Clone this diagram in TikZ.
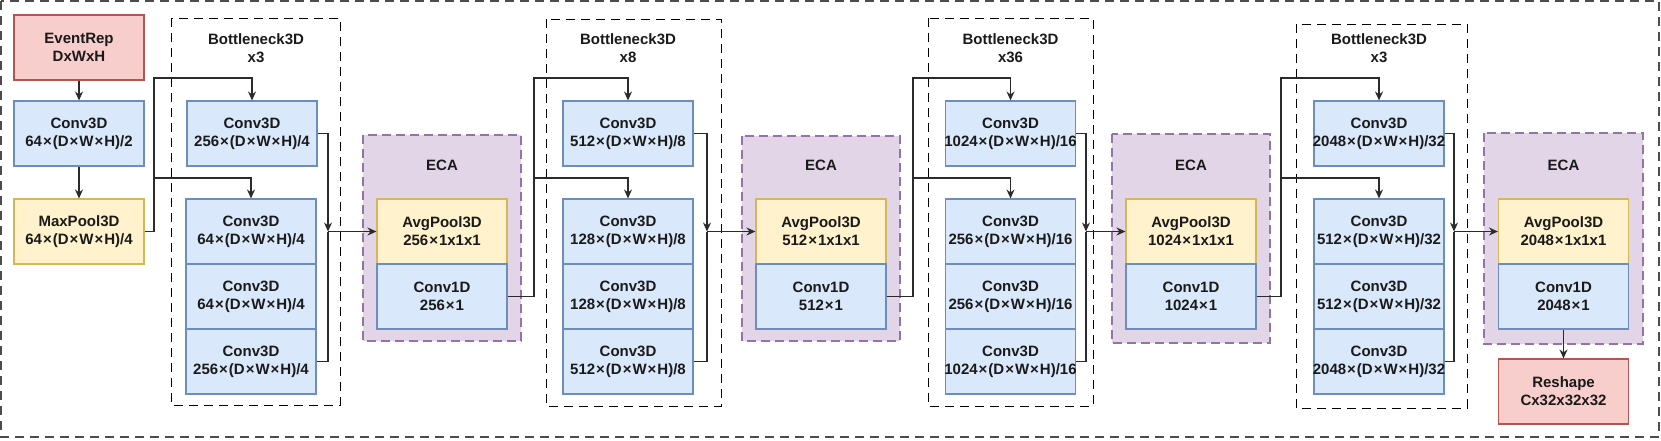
\documentclass[tikz,border=0pt]{standalone}
\usepackage{fontspec}
\setmainfont{Liberation Sans}
\usetikzlibrary{arrows.meta}
\definecolor{bluef}{HTML}{DAE8FC}\definecolor{blued}{HTML}{6C8EBF}
\definecolor{yelf}{HTML}{FFF2CC}\definecolor{yeld}{HTML}{D6B656}
\definecolor{redf}{HTML}{F8CECC}\definecolor{redd}{HTML}{B85450}
\definecolor{purf}{HTML}{E1D5E7}\definecolor{purd}{HTML}{9673A6}
\definecolor{txt}{HTML}{1A1A1A}
\definecolor{ln}{HTML}{2B2B2B}
\newcommand{\mx}{\hspace{1pt}×\hspace{1pt}}
\newcommand{\wl}[1]{\makebox[120pt][c]{#1}}
\tikzset{
  x=1pt,y=-1pt,
  every node/.style={font=\fontsize{15}{18}\selectfont\bfseries, text=txt, align=center, inner sep=0pt},
  blk/.style={draw=blued, fill=bluef, line width=1.1pt, minimum width=130pt, minimum height=65pt},
  yblk/.style={draw=yeld, fill=yelf, line width=1.1pt, minimum width=130pt, minimum height=65pt},
  rblk/.style={draw=redd, fill=redf, line width=1.1pt, minimum width=130pt, minimum height=65pt},
  ecabox/.style={draw=purd, fill=purf, line width=1.1pt, dash pattern=on 9pt off 5pt},
  bnbox/.style={draw=black, line width=1pt, dash pattern=on 9pt off 6pt},
  outerbox/.style={draw=black!70, line width=1.4pt, dash pattern=on 9pt off 6pt},
  arr/.style={draw=ln, line width=1.2pt, -{Stealth[length=9pt,width=8pt]}},
  lnk/.style={draw=ln, line width=1.2pt},
}
\begin{document}
\begin{tikzpicture}
\useasboundingbox (0,0) rectangle (1661,440);
\draw[outerbox] (1,1) rectangle (1659,437);

% input column
\node[rblk] (ev) at (79,47.5) {EventRep\\DxWxH};
\node[blk] (c0) at (79,133.5) {Conv3D\\\wl{64\mx(D\mx W\mx H)/2}};
\node[yblk] (mp) at (79,231.5) {MaxPool3D\\\wl{64\mx(D\mx W\mx H)/4}};
\draw[arr] (ev) -- (c0);
\draw[arr] (c0) -- (mp);

% Bottleneck 1
\draw[bnbox] (171,18) rectangle (340,405);
\node (bl1) at (256,48.5) {Bottleneck3D\\x3};
\node[blk] (t1) at (252,133.5) {Conv3D\\\wl{256\mx(D\mx W\mx H)/4}};
\node[blk] (a1) at (251,231.5) {Conv3D\\\wl{64\mx(D\mx W\mx H)/4}};
\node[blk] (b1) at (251,296.5) {Conv3D\\\wl{64\mx(D\mx W\mx H)/4}};
\node[blk] (d1) at (251,361.5) {Conv3D\\\wl{256\mx(D\mx W\mx H)/4}};
% ECA 1
\draw[ecabox] (363,135) rectangle (521,341);
\node (el1) at (442,165) {ECA};
\node[yblk] (p1) at (442,231.5) {AvgPool3D\\256\mx 1x1x1};
\node[blk] (q1) at (442,296.5) {Conv1D\\256\mx 1};

% Bottleneck 2
\draw[bnbox] (546,19) rectangle (721,406);
\node (bl2) at (628,48.5) {Bottleneck3D\\x8};
\node[blk] (t2) at (628,133.5) {Conv3D\\\wl{512\mx(D\mx W\mx H)/8}};
\node[blk] (a2) at (628,231.5) {Conv3D\\\wl{128\mx(D\mx W\mx H)/8}};
\node[blk] (b2) at (628,296.5) {Conv3D\\\wl{128\mx(D\mx W\mx H)/8}};
\node[blk] (d2) at (628,361.5) {Conv3D\\\wl{512\mx(D\mx W\mx H)/8}};
% ECA 2
\draw[ecabox] (742,136) rectangle (900,341);
\node (el2) at (821,165) {ECA};
\node[yblk] (p2) at (821,231.5) {AvgPool3D\\512\mx 1x1x1};
\node[blk] (q2) at (821,296.5) {Conv1D\\512\mx 1};

% Bottleneck 3
\draw[bnbox] (928,18) rectangle (1093,406);
\node (bl3) at (1010.5,48.5) {Bottleneck3D\\x36};
\node[blk] (t3) at (1010.5,133.5) {Conv3D\\\wl{1024\mx(D\mx W\mx H)/16}};
\node[blk] (a3) at (1010.5,231.5) {Conv3D\\\wl{256\mx(D\mx W\mx H)/16}};
\node[blk] (b3) at (1010.5,296.5) {Conv3D\\\wl{256\mx(D\mx W\mx H)/16}};
\node[blk] (d3) at (1010.5,361.5) {Conv3D\\\wl{1024\mx(D\mx W\mx H)/16}};
% ECA 3
\draw[ecabox] (1112,134) rectangle (1270,343);
\node (el3) at (1191,165) {ECA};
\node[yblk] (p3) at (1191,231.5) {AvgPool3D\\1024\mx 1x1x1};
\node[blk] (q3) at (1191,296.5) {Conv1D\\1024\mx 1};

% Bottleneck 4
\draw[bnbox] (1296,24) rectangle (1467,408);
\node (bl4) at (1379,48.5) {Bottleneck3D\\x3};
\node[blk] (t4) at (1379,133.5) {Conv3D\\\wl{2048\mx(D\mx W\mx H)/32}};
\node[blk] (a4) at (1379,231.5) {Conv3D\\\wl{512\mx(D\mx W\mx H)/32}};
\node[blk] (b4) at (1379,296.5) {Conv3D\\\wl{512\mx(D\mx W\mx H)/32}};
\node[blk] (d4) at (1379,361.5) {Conv3D\\\wl{2048\mx(D\mx W\mx H)/32}};
% ECA 4
\draw[ecabox] (1484,133) rectangle (1643,344);
\node (el4) at (1563.5,165) {ECA};
\node[yblk] (p4) at (1563.5,231.5) {AvgPool3D\\2048\mx 1x1x1};
\node[blk] (q4) at (1563.5,296.5) {Conv1D\\2048\mx 1};
\node[rblk] (rs) at (1563.5,391.5) {Reshape\\Cx32x32x32};
\draw[arr] (q4) -- (rs);

% split / merge coordinates
\coordinate (j1) at (154,78);  \coordinate (s1) at (154,178); \coordinate (m1) at (328,231.5);
\coordinate (j2) at (534,78);  \coordinate (s2) at (534,178); \coordinate (m2) at (707,231.5);
\coordinate (j3) at (913,78);  \coordinate (s3) at (913,178); \coordinate (m3) at (1086,231.5);
\coordinate (j4) at (1281,78); \coordinate (s4) at (1281,178); \coordinate (m4) at (1454,231.5);

% inputs to bottlenecks
\draw[arr] (mp.east) -| (j1) -| (t1.north);
\draw[arr] (s1) -| (a1.north);
\draw[arr] (q1.east) -| (j2) -| (t2.north);
\draw[arr] (s2) -| (a2.north);
\draw[arr] (q2.east) -| (j3) -| (t3.north);
\draw[arr] (s3) -| (a3.north);
\draw[arr] (q3.east) -| (j4) -| (t4.north);
\draw[arr] (s4) -| (a4.north);

% outputs of bottlenecks
\draw[arr] (t1.east) -| (m1);
\draw[lnk] (d1.east) -| (m1);
\draw[arr] (m1) -- (p1.west);
\draw[arr] (t2.east) -| (m2);
\draw[lnk] (d2.east) -| (m2);
\draw[arr] (m2) -- (p2.west);
\draw[arr] (t3.east) -| (m3);
\draw[lnk] (d3.east) -| (m3);
\draw[arr] (m3) -- (p3.west);
\draw[arr] (t4.east) -| (m4);
\draw[lnk] (d4.east) -| (m4);
\draw[arr] (m4) -- (p4.west);
\end{tikzpicture}
\end{document}
